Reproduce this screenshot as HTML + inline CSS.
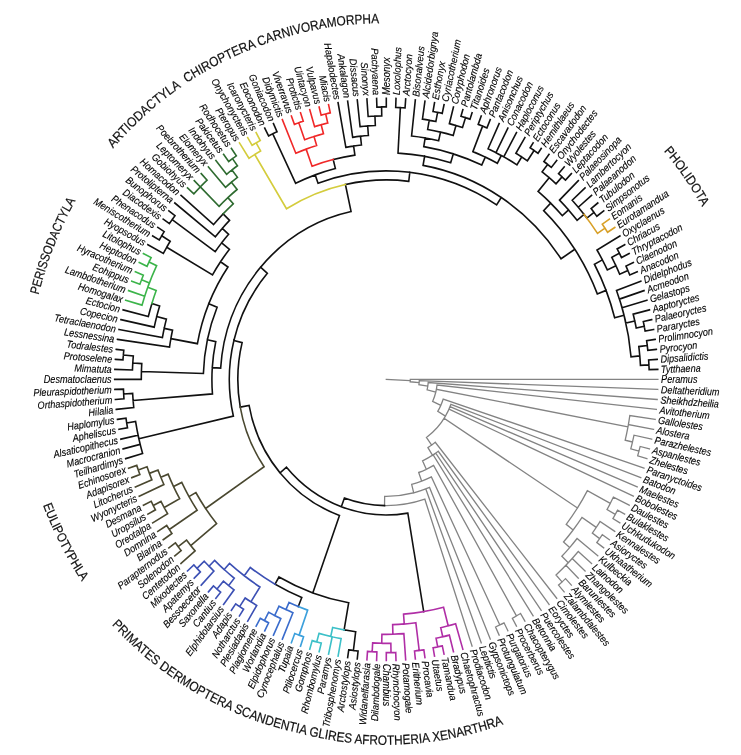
<!DOCTYPE html>
<html><head><meta charset="utf-8"><style>
html,body{margin:0;padding:0;background:#fff;}
svg{display:block;}
.lb text{font-family:"Liberation Sans",sans-serif;font-style:italic;font-size:10.0px;fill:#000;stroke:#000;stroke-width:0.12px;}
.tt text{font-family:"Liberation Sans",sans-serif;font-size:13px;fill:#111;stroke:#111;stroke-width:0.2px;}
</style></head><body>
<svg width="741" height="755" viewBox="0 0 741 755" style="will-change:transform">
<rect width="741" height="755" fill="#fff"/>
<g transform="translate(386.3,379.4) scale(1,1.035)">
<g fill="none" stroke-linecap="square" stroke-width="1.5"><path stroke="#838383" stroke-width="1.3" d="M0,0L23.97,1.15M23.97,1.15A24,24 0 0 0 24.00,0.00L271.60,0.00M23.97,1.15A24,24 0 0 1 23.89,2.30L32.85,3.17M32.85,3.17A33,33 0 0 0 32.98,1.18L271.43,9.69M32.85,3.17A33,33 0 0 1 32.60,5.15L41.49,6.55M41.49,6.55A42,42 0 0 0 41.89,3.00L270.91,19.38M41.49,6.55A42,42 0 0 1 40.78,10.06L49.52,12.22M49.52,12.22A51,51 0 0 0 50.71,5.45L270.04,29.03M49.52,12.22A51,51 0 0 0 50.11,9.50L241.69,45.84M241.69,45.84A246,246 0 0 0 243.50,35.01L268.84,38.65M241.69,45.84A246,246 0 0 0 242.09,43.68L267.28,48.22M241.69,45.84A246,246 0 0 1 238.89,58.71L246.18,60.50M246.18,60.50A253.5,253.5 0 0 0 247.71,53.89L265.39,57.73M246.18,60.50A253.5,253.5 0 0 1 244.47,67.07L252.66,69.32M252.66,69.32A262,262 0 0 0 253.86,64.79L263.16,67.17M252.66,69.32A262,262 0 0 1 251.39,73.81L260.60,76.52M49.52,12.22A51,51 0 0 1 46.33,21.31L54.51,25.07M54.51,25.07A60,60 0 0 0 56.93,18.95L257.70,85.77M54.51,25.07A60,60 0 0 1 51.44,30.89L59.15,35.53M59.15,35.53A69,69 0 0 0 64.65,24.11L254.48,94.91M59.15,35.53A69,69 0 0 0 63.75,26.41L250.93,103.94M59.15,35.53A69,69 0 0 0 62.76,28.66L247.06,112.83M59.15,35.53A69,69 0 0 1 57.86,37.60L191.18,124.23M191.18,124.23A228,228 0 0 0 201.08,107.48L224.01,119.73M224.01,119.73A254,254 0 0 0 227.13,113.69L242.87,121.57M224.01,119.73A254,254 0 0 1 220.72,125.69L228.98,130.39M228.98,130.39A263.5,263.5 0 0 0 231.27,126.28L238.38,130.16M228.98,130.39A263.5,263.5 0 0 1 226.61,134.46L233.58,138.59M191.18,124.23A228,228 0 0 1 179.90,140.07L186.84,145.48M186.84,145.48A236.8,236.8 0 0 0 195.71,133.31L209.93,142.99M209.93,142.99A254,254 0 0 0 213.68,137.32L228.48,146.84M209.93,142.99A254,254 0 0 1 206.02,148.56L213.32,153.83M213.32,153.83A263,263 0 0 0 216.03,149.99L223.10,154.90M213.32,153.83A263,263 0 0 1 210.54,157.61L217.43,162.76M186.84,145.48A236.8,236.8 0 0 1 177.22,157.06L183.36,162.50M183.36,162.50A245,245 0 0 0 190.77,153.73L211.48,170.42M183.36,162.50A245,245 0 0 1 175.54,170.91L181.99,177.18M181.99,177.18A254,254 0 0 0 191.96,166.33L205.26,177.86M181.99,177.18A254,254 0 0 0 185.90,173.08L198.78,185.07M181.99,177.18A254,254 0 0 1 179.61,179.61L192.05,192.05M181.99,177.18A254,254 0 0 1 169.73,188.96L175.75,195.66M175.75,195.66A263,263 0 0 0 179.21,192.49L185.07,198.78M175.75,195.66A263,263 0 0 1 172.23,198.76L177.86,205.26M59.15,35.53A69,69 0 0 1 40.13,56.13L45.36,63.45M45.36,63.45A78,78 0 0 0 48.94,60.73L170.42,211.48M45.36,63.45A78,78 0 0 1 41.64,65.96L46.28,73.31M46.28,73.31A86.7,86.7 0 0 0 51.96,69.41L162.76,217.43M46.28,73.31A86.7,86.7 0 0 0 49.45,71.22L154.90,223.10M46.28,73.31A86.7,86.7 0 0 0 46.87,72.94L146.84,228.48M46.28,73.31A86.7,86.7 0 0 1 36.27,78.75L40.00,86.83M40.00,86.83A95.6,95.6 0 0 0 47.31,83.07L130.14,228.54M130.14,228.54A263,263 0 0 0 134.20,226.18L138.59,233.58M130.14,228.54A263,263 0 0 1 126.04,230.83L130.16,238.38M40.00,86.83A95.6,95.6 0 0 1 32.39,89.95L35.41,98.32M35.41,98.32A104.5,104.5 0 0 0 45.10,94.27L113.51,237.25M113.51,237.25A263,263 0 0 0 117.72,235.18L121.57,242.87M113.51,237.25A263,263 0 0 1 109.25,239.23L112.83,247.06M35.41,98.32A104.5,104.5 0 0 1 25.35,101.38L27.41,109.62M27.41,109.62A113,113 0 0 0 43.24,104.40L103.94,250.93M27.41,109.62A113,113 0 0 0 39.49,105.88L94.91,254.48M27.41,109.62A113,113 0 0 1 -1.65,112.99L-1.78,121.99M-1.78,121.99A122,122 0 0 0 38.53,115.76L85.77,257.70"/><path stroke="#111" stroke-width="1.6" d="M-1.78,121.99A122,122 0 0 1 -41.88,114.59L-44.97,123.04M-44.97,123.04A131,131 0 0 0 21.53,129.22L37.39,224.41M-44.97,123.04A131,131 0 0 1 -99.79,84.87L-106.26,90.38M-106.26,90.38A139.5,139.5 0 0 0 -46.83,131.41L-73.51,206.29M-73.51,206.29A219,219 0 0 0 -37.60,215.75L-42.19,242.05M-42.19,242.05A245.7,245.7 0 0 0 -30.62,243.78L-32.90,261.94M-32.90,261.94A264,264 0 0 0 -28.22,262.49L-29.03,270.04M-32.90,261.94A264,264 0 0 1 -37.57,261.31L-38.65,268.84M-73.51,206.29A219,219 0 0 1 -107.31,190.91L-111.23,197.88M-111.23,197.88A227,227 0 0 0 -84.52,210.68L-88.02,219.40M-106.26,90.38A139.5,139.5 0 0 1 -137.22,25.13L-146.07,26.75M-146.07,26.75A148.5,148.5 0 0 1 -144.18,-35.56L-152.43,-37.60M-152.43,-37.60A157,157 0 0 0 -152.95,35.42L-247.45,57.31M-247.45,57.31A254,254 0 0 0 -243.71,71.56L-260.60,76.52M-247.45,57.31A254,254 0 0 0 -246.11,62.82L-263.16,67.17M-247.45,57.31A254,254 0 0 1 -248.20,53.99L-265.39,57.73M-247.45,57.31A254,254 0 0 1 -250.73,40.63L-259.61,42.07M-259.61,42.07A263,263 0 0 0 -258.82,46.70L-267.28,48.22M-259.61,42.07A263,263 0 0 1 -260.32,37.43L-268.84,38.65M-152.43,-37.60A157,157 0 0 1 -118.94,-102.48L-125.76,-108.36M-125.76,-108.36A166,166 0 0 0 -165.65,-10.85L-174.03,-11.40M-174.03,-11.40A174.4,174.4 0 0 0 -173.84,13.99L-253.18,20.38M-253.18,20.38A254,254 0 0 0 -252.54,27.15L-270.04,29.03M-253.18,20.38A254,254 0 0 1 -253.64,13.60L-262.62,14.08M-262.62,14.08A263,263 0 0 0 -262.33,18.76L-270.91,19.38M-262.62,14.08A263,263 0 0 1 -262.83,9.39L-271.43,9.69M-174.03,-11.40A174.4,174.4 0 0 1 -170.53,-36.54L-178.94,-38.34M-178.94,-38.34A183,183 0 0 0 -182.91,-5.72L-244.88,-7.65M-244.88,-7.65A245,245 0 0 0 -245.00,0.00L-271.60,0.00M-244.88,-7.65A245,245 0 0 1 -244.52,-15.30L-253.50,-15.86M-253.50,-15.86A254,254 0 0 0 -253.84,-9.07L-271.43,-9.69M-253.50,-15.86A254,254 0 0 1 -252.99,-22.64L-262.95,-23.53M-262.95,-23.53A264,264 0 0 0 -263.33,-18.83L-270.91,-19.38M-262.95,-23.53A264,264 0 0 1 -262.49,-28.22L-270.04,-29.03M-178.94,-38.34A183,183 0 0 1 -169.19,-69.74L-177.51,-73.17M-177.51,-73.17A192,192 0 0 0 -188.87,-34.51L-215.43,-39.36M-215.43,-39.36A219,219 0 0 0 -216.77,-31.17L-268.84,-38.65M-215.43,-39.36A219,219 0 0 1 -213.79,-47.51L-222.08,-49.35M-222.08,-49.35A227.5,227.5 0 0 0 -223.89,-40.39L-267.28,-48.22M-222.08,-49.35A227.5,227.5 0 0 1 -219.92,-58.23L-229.59,-60.79M-229.59,-60.79A237.5,237.5 0 0 0 -232.07,-50.48L-265.39,-57.73M-229.59,-60.79A237.5,237.5 0 0 1 -226.65,-70.97L-234.38,-73.39M-234.38,-73.39A245.6,245.6 0 0 0 -237.97,-60.74L-263.16,-67.17M-177.51,-73.17A192,192 0 0 1 -158.34,-108.60L-165.76,-113.69M-165.76,-113.69A201,201 0 0 0 -173.77,-101.02L-219.59,-127.65M-219.59,-127.65A254,254 0 0 0 -222.93,-121.73L-238.38,-130.16M-219.59,-127.65A254,254 0 0 1 -216.10,-133.49L-224.60,-138.74M-224.60,-138.74A264,264 0 0 0 -227.04,-134.71L-233.58,-138.59M-224.60,-138.74A264,264 0 0 1 -222.09,-142.73L-228.48,-146.84M-165.76,-113.69A201,201 0 0 1 -156.82,-125.73L-164.63,-131.98M-164.63,-131.98A211,211 0 0 0 -171.14,-123.41L-214.13,-154.41M-214.13,-154.41A264,264 0 0 0 -216.86,-150.57L-223.10,-154.90M-214.13,-154.41A264,264 0 0 1 -211.34,-158.21L-217.43,-162.76M-164.63,-131.98A211,211 0 0 1 -157.68,-140.21L-164.03,-145.86M-164.03,-145.86A219.5,219.5 0 0 0 -170.91,-137.73L-211.48,-170.42M-164.03,-145.86A219.5,219.5 0 0 1 -156.76,-153.64L-163.19,-159.94M-163.19,-159.94A228.5,228.5 0 0 0 -172.69,-149.64L-205.26,-177.86M-125.76,-108.36A166,166 0 0 1 -35.22,-162.22L-40.88,-188.31M-40.88,-188.31A192.7,192.7 0 0 1 22.47,-191.39L23.50,-200.13M23.50,-200.13A201.5,201.5 0 0 0 -68.25,-189.59L-71.13,-197.59M-71.13,-197.59A210,210 0 0 0 -90.63,-189.44L-113.51,-237.25M-113.51,-237.25A263,263 0 0 0 -117.72,-235.18L-121.57,-242.87M-113.51,-237.25A263,263 0 0 1 -109.25,-239.23L-112.83,-247.06M-71.13,-197.59A210,210 0 0 1 -50.91,-203.73L-53.09,-212.47M-53.09,-212.47A219,219 0 0 1 -31.41,-216.74L-32.67,-225.45M-32.67,-225.45A227.8,227.8 0 0 0 -40.45,-224.18L-48.22,-267.28M-32.67,-225.45A227.8,227.8 0 0 1 -24.86,-226.44L-25.78,-234.89M-25.78,-234.89A236.3,236.3 0 0 0 -33.63,-233.89L-38.65,-268.84M-25.78,-234.89A236.3,236.3 0 0 1 -17.91,-235.62L-18.61,-244.89M-18.61,-244.89A245.6,245.6 0 0 0 -26.25,-244.19L-29.03,-270.04M-18.61,-244.89A245.6,245.6 0 0 1 -10.96,-245.36L-11.36,-254.45M-11.36,-254.45A254.7,254.7 0 0 0 -18.17,-254.05L-19.38,-270.91M-11.36,-254.45A254.7,254.7 0 0 1 -4.55,-254.66L-4.70,-263.26M-4.70,-263.26A263.3,263.3 0 0 0 -9.40,-263.13L-9.69,-271.43M-4.70,-263.26A263.3,263.3 0 0 1 -0.00,-263.30L-0.00,-271.60M23.50,-200.13A201.5,201.5 0 0 1 110.31,-168.62L114.96,-175.74M114.96,-175.74A210,210 0 0 0 36.77,-206.76L38.34,-215.62M38.34,-215.62A219,219 0 0 0 11.72,-218.69L14.08,-262.62M14.08,-262.62A263,263 0 0 0 9.39,-262.83L9.69,-271.43M14.08,-262.62A263,263 0 0 1 18.76,-262.33L19.38,-270.91M38.34,-215.62A219,219 0 0 1 64.39,-209.32L67.04,-217.92M67.04,-217.92A228,228 0 0 0 37.47,-224.90L38.87,-233.28M38.87,-233.28A236.5,236.5 0 0 0 25.28,-235.14L29.03,-270.04M38.87,-233.28A236.5,236.5 0 0 1 52.33,-230.64L54.21,-238.93M54.21,-238.93A245,245 0 0 0 41.35,-241.49L42.87,-250.36M42.87,-250.36A254,254 0 0 0 36.15,-251.41L38.65,-268.84M42.87,-250.36A254,254 0 0 1 49.55,-249.12L51.31,-257.95M51.31,-257.95A263,263 0 0 0 46.70,-258.82L48.22,-267.28M51.31,-257.95A263,263 0 0 1 55.90,-256.99L57.73,-265.39M54.21,-238.93A245,245 0 0 1 66.92,-235.68L69.66,-245.30M69.66,-245.30A255,255 0 0 0 63.06,-247.08L67.17,-263.16M69.66,-245.30A255,255 0 0 1 76.20,-243.35L79.19,-252.89M79.19,-252.89A265,265 0 0 0 74.66,-254.27L76.52,-260.60M79.19,-252.89A265,265 0 0 1 83.69,-251.44L85.77,-257.70M67.04,-217.92A228,228 0 0 1 95.41,-207.08L98.97,-214.80M98.97,-214.80A236.5,236.5 0 0 0 86.59,-220.08L96.29,-244.74M96.29,-244.74A263,263 0 0 0 91.91,-246.42L94.91,-254.48M96.29,-244.74A263,263 0 0 1 100.65,-242.98L103.94,-250.93M98.97,-214.80A236.5,236.5 0 0 1 111.02,-208.82L115.01,-216.33M115.01,-216.33A245,245 0 0 0 101.78,-222.86L112.83,-247.06M115.01,-216.33A245,245 0 0 0 109.67,-219.09L121.57,-242.87M115.01,-216.33A245,245 0 0 1 117.42,-215.03L130.16,-238.38M115.01,-216.33A245,245 0 0 1 130.61,-207.28L135.41,-214.90M135.41,-214.90A254,254 0 0 0 129.61,-218.44L138.59,-233.58M135.41,-214.90A254,254 0 0 1 141.11,-211.19L147.78,-221.17M147.78,-221.17A266,266 0 0 0 143.81,-223.77L146.84,-228.48M147.78,-221.17A266,266 0 0 1 151.71,-218.50L154.90,-223.10M114.96,-175.74A210,210 0 0 1 174.71,-116.51L188.52,-125.72M188.52,-125.72A226.6,226.6 0 0 0 157.34,-163.06L164.36,-170.33M164.36,-170.33A236.7,236.7 0 0 0 151.79,-181.62L162.88,-194.90M162.88,-194.90A254,254 0 0 0 155.82,-200.59L161.34,-207.70M161.34,-207.70A263,263 0 0 0 157.61,-210.54L162.76,-217.43M161.34,-207.70A263,263 0 0 1 165.02,-204.78L170.42,-211.48M162.88,-194.90A254,254 0 0 1 169.73,-188.96L175.75,-195.66M175.75,-195.66A263,263 0 0 0 172.23,-198.76L177.86,-205.26M175.75,-195.66A263,263 0 0 1 179.21,-192.49L185.07,-198.78M164.36,-170.33A236.7,236.7 0 0 1 176.09,-158.17L182.27,-163.72M182.27,-163.72A245,245 0 0 0 173.24,-173.24L192.05,-192.05M182.27,-163.72A245,245 0 0 1 190.77,-153.73L197.77,-159.38M197.77,-159.38A254,254 0 0 0 185.90,-173.08L198.78,-185.07M197.77,-159.38A254,254 0 0 0 191.96,-166.33L205.26,-177.86M197.77,-159.38A254,254 0 0 1 200.59,-155.82L207.70,-161.34M207.70,-161.34A263,263 0 0 0 204.78,-165.02L211.48,-170.42M207.70,-161.34A263,263 0 0 1 210.54,-157.61L217.43,-162.76M188.52,-125.72A226.6,226.6 0 0 1 211.01,-82.59L219.77,-86.02M219.77,-86.02A236,236 0 0 0 208.13,-111.25L216.07,-115.49M216.07,-115.49A245,245 0 0 0 210.70,-125.02L233.58,-138.59M216.07,-115.49A245,245 0 0 1 221.01,-105.74L229.58,-109.84M229.58,-109.84A254.5,254.5 0 0 0 225.51,-117.96L233.04,-121.90M233.04,-121.90A263,263 0 0 0 230.83,-126.04L238.38,-130.16M233.04,-121.90A263,263 0 0 1 235.18,-117.72L242.87,-121.57M229.58,-109.84A254.5,254.5 0 0 1 233.35,-101.57L241.60,-105.17M241.60,-105.17A263.5,263.5 0 0 0 239.69,-109.46L247.06,-112.83M241.60,-105.17A263.5,263.5 0 0 1 243.44,-100.84L250.93,-103.94M219.77,-86.02A236,236 0 0 1 228.35,-59.59L237.74,-62.04M237.74,-62.04A245.7,245.7 0 0 0 230.21,-85.86L254.48,-94.91M237.74,-62.04A245.7,245.7 0 0 0 233.13,-77.59L257.70,-85.77M237.74,-62.04A245.7,245.7 0 0 0 235.75,-69.22L260.60,-76.52M237.74,-62.04A245.7,245.7 0 0 1 239.61,-54.37L248.48,-56.38M248.48,-56.38A254.8,254.8 0 0 0 246.89,-63.01L263.16,-67.17M248.48,-56.38A254.8,254.8 0 0 1 249.90,-49.71L257.95,-51.31M257.95,-51.31A263,263 0 0 0 256.99,-55.90L265.39,-57.73M257.95,-51.31A263,263 0 0 1 258.82,-46.70L267.28,-48.22M237.74,-62.04A245.7,245.7 0 0 1 244.72,-21.90L253.49,-22.68M253.49,-22.68A254.5,254.5 0 0 0 252.52,-31.72L260.95,-32.78M260.95,-32.78A263,263 0 0 0 260.32,-37.43L268.84,-38.65M260.95,-32.78A263,263 0 0 1 261.49,-28.11L270.04,-29.03M253.49,-22.68A254.5,254.5 0 0 1 254.14,-13.62L262.62,-14.08M262.62,-14.08A263,263 0 0 0 262.33,-18.76L270.91,-19.38M262.62,-14.08A263,263 0 0 1 262.83,-9.39L271.43,-9.69"/><path stroke="#b02ea6" stroke-width="1.6" d="M37.39,224.41A227.5,227.5 0 0 0 57.25,220.18L61.90,238.08M61.90,238.08A246,246 0 0 0 69.31,236.04L76.52,260.60M61.90,238.08A246,246 0 0 1 54.43,239.90L56.43,248.68M56.43,248.68A255,255 0 0 0 63.06,247.08L67.17,263.16M56.43,248.68A255,255 0 0 1 49.75,250.10L51.41,258.44M51.41,258.44A263.5,263.5 0 0 0 56.01,257.48L57.73,265.39M51.41,258.44A263.5,263.5 0 0 1 46.79,259.31L48.22,267.28M37.39,224.41A227.5,227.5 0 0 1 17.24,226.85L17.96,236.32M17.96,236.32A237,237 0 0 0 29.54,235.15L32.90,261.94M32.90,261.94A264,264 0 0 0 37.57,261.31L38.65,268.84M32.90,261.94A264,264 0 0 1 28.22,262.49L29.03,270.04M17.96,236.32A237,237 0 0 1 6.34,236.92L6.59,246.21M6.59,246.21A246.3,246.3 0 0 0 17.57,245.67L19.38,270.91M6.59,246.21A246.3,246.3 0 0 1 -4.40,246.26L-4.55,254.96M-4.55,254.96A255,255 0 0 0 4.55,254.96L4.71,263.96M4.71,263.96A264,264 0 0 0 9.42,263.83L9.69,271.43M4.71,263.96A264,264 0 0 1 0.00,264.00L0.00,271.60M-4.55,254.96A255,255 0 0 1 -13.65,254.63L-14.10,263.12M-14.10,263.12A263.5,263.5 0 0 0 -9.40,263.33L-9.69,271.43M-14.10,263.12A263.5,263.5 0 0 1 -18.80,262.83L-19.38,270.91"/><path stroke="#3cc0c8" stroke-width="1.6" d="M-42.19,242.05A245.7,245.7 0 0 1 -53.65,239.77L-55.58,248.36M-55.58,248.36A254.5,254.5 0 0 0 -45.19,250.46L-48.22,267.28M-55.58,248.36A254.5,254.5 0 0 0 -54.10,248.68L-57.73,265.39M-55.58,248.36A254.5,254.5 0 0 1 -67.33,245.43L-69.58,253.63M-69.58,253.63A263,263 0 0 0 -65.04,254.83L-67.17,263.16M-69.58,253.63A263,263 0 0 1 -74.10,252.35L-76.52,260.60"/><path stroke="#3ca0dc" stroke-width="1.6" d="M-88.02,219.40A236.4,236.4 0 0 0 -78.65,222.93L-87.16,247.08M-87.16,247.08A262,262 0 0 0 -82.74,248.59L-85.77,257.70M-87.16,247.08A262,262 0 0 1 -91.56,245.48L-94.91,254.48"/><path stroke="#3a6ccc" stroke-width="1.6" d="M-88.02,219.40A236.4,236.4 0 0 1 -97.24,215.47L-100.37,222.40M-100.37,222.40A244,244 0 0 0 -93.37,225.43L-103.94,250.93M-100.37,222.40A244,244 0 0 1 -107.27,219.16L-111.66,228.14M-111.66,228.14A254,254 0 0 0 -105.52,231.05L-112.83,247.06M-111.66,228.14A254,254 0 0 1 -117.73,225.07L-121.90,233.04M-121.90,233.04A263,263 0 0 0 -117.72,235.18L-121.57,242.87M-121.90,233.04A263,263 0 0 1 -126.04,230.83L-130.16,238.38"/><path stroke="#3c50b4" stroke-width="1.6" d="M-111.23,197.88A227,227 0 0 1 -136.04,181.72L-142.03,189.73M-142.03,189.73A237,237 0 0 0 -126.35,200.51L-135.41,214.90M-135.41,214.90A254,254 0 0 0 -129.61,218.44L-138.59,233.58M-135.41,214.90A254,254 0 0 1 -141.11,211.19L-146.67,219.51M-146.67,219.51A264,264 0 0 0 -142.73,222.09L-146.84,228.48M-146.67,219.51A264,264 0 0 1 -150.57,216.86L-154.90,223.10M-142.03,189.73A237,237 0 0 1 -156.79,177.72L-162.09,183.72M-162.09,183.72A245,245 0 0 0 -152.02,192.13L-157.61,199.19M-157.61,199.19A254,254 0 0 0 -152.22,203.34L-162.76,217.43M-157.61,199.19A254,254 0 0 1 -162.88,194.90L-169.29,202.57M-169.29,202.57A264,264 0 0 0 -165.65,205.56L-170.42,211.48M-169.29,202.57A264,264 0 0 1 -172.88,199.52L-177.86,205.26M-162.09,183.72A245,245 0 0 1 -171.69,174.78L-177.29,180.49M-177.29,180.49A253,253 0 0 0 -172.40,185.17L-185.07,198.78M-177.29,180.49A253,253 0 0 1 -182.06,175.68L-189.26,182.62M-189.26,182.62A263,263 0 0 0 -185.97,185.97L-192.05,192.05M-189.26,182.62A263,263 0 0 1 -192.49,179.21L-198.78,185.07"/><path stroke="#4a4830" stroke-width="1.6" d="M-146.07,26.75A148.5,148.5 0 0 0 -122.22,84.35L-180.73,124.74M-180.73,124.74A219.6,219.6 0 0 0 -169.75,139.31L-195.57,160.50M-195.57,160.50A253,253 0 0 0 -191.20,165.68L-205.26,177.86M-195.57,160.50A253,253 0 0 1 -199.80,155.21L-208.09,161.65M-208.09,161.65A263.5,263.5 0 0 0 -205.17,165.34L-211.48,170.42M-208.09,161.65A263.5,263.5 0 0 1 -210.94,157.91L-217.43,162.76M-180.73,124.74A219.6,219.6 0 0 1 -190.46,109.30L-197.32,113.24M-197.32,113.24A227.5,227.5 0 0 0 -189.16,126.39L-217.01,145.00M-217.01,145.00A261,261 0 0 0 -214.39,148.85L-223.10,154.90M-217.01,145.00A261,261 0 0 1 -219.57,141.11L-228.48,146.84M-197.32,113.24A227.5,227.5 0 0 1 -204.56,99.56L-212.74,103.54M-212.74,103.54A236.6,236.6 0 0 0 -206.64,115.24L-222.10,123.86M-222.10,123.86A254.3,254.3 0 0 0 -218.70,129.76L-233.58,138.59M-222.10,123.86A254.3,254.3 0 0 1 -225.33,117.87L-233.04,121.90M-233.04,121.90A263,263 0 0 0 -230.83,126.04L-238.38,130.16M-233.04,121.90A263,263 0 0 1 -235.18,117.72L-242.87,121.57M-212.74,103.54A236.6,236.6 0 0 1 -218.18,91.52L-225.47,94.57M-225.47,94.57A244.5,244.5 0 0 0 -222.41,101.57L-247.06,112.83M-225.47,94.57A244.5,244.5 0 0 1 -228.31,87.49L-236.90,90.78M-236.90,90.78A253.7,253.7 0 0 0 -234.39,97.09L-250.93,103.94M-236.90,90.78A253.7,253.7 0 0 1 -239.25,84.40L-248.02,87.50M-248.02,87.50A263,263 0 0 0 -246.42,91.91L-254.48,94.91M-248.02,87.50A263,263 0 0 1 -249.54,83.06L-257.70,85.77"/><path stroke="#3cb44a" stroke-width="1.6" d="M-234.38,-73.39A245.6,245.6 0 0 1 -230.11,-85.83L-238.55,-88.97M-238.55,-88.97A254.6,254.6 0 0 0 -244.29,-71.73L-260.60,-76.52M-238.55,-88.97A254.6,254.6 0 0 0 -241.57,-80.40L-257.70,-85.77M-238.55,-88.97A254.6,254.6 0 0 1 -236.92,-93.22L-244.74,-96.29M-244.74,-96.29A263,263 0 0 0 -246.42,-91.91L-254.48,-94.91M-244.74,-96.29A263,263 0 0 1 -242.98,-100.65L-250.93,-103.94M-238.55,-88.97A254.6,254.6 0 0 1 -229.67,-109.88L-237.25,-113.51M-237.25,-113.51A263,263 0 0 0 -239.23,-109.25L-247.06,-112.83M-237.25,-113.51A263,263 0 0 1 -235.18,-117.72L-242.87,-121.57"/><path stroke="#2e6b30" stroke-width="1.6" d="M-163.19,-159.94A228.5,228.5 0 0 1 -153.07,-169.65L-158.43,-175.59M-158.43,-175.59A236.5,236.5 0 0 0 -167.23,-167.23L-185.97,-185.97M-185.97,-185.97A263,263 0 0 0 -192.49,-179.21L-198.78,-185.07M-185.97,-185.97L-192.05,-192.05M-185.97,-185.97A263,263 0 0 1 -179.21,-192.49L-185.07,-198.78M-158.43,-175.59A236.5,236.5 0 0 1 -149.22,-183.48L-154.90,-190.47M-154.90,-190.47A245.5,245.5 0 0 0 -160.77,-185.54L-177.86,-205.26M-154.90,-190.47A245.5,245.5 0 0 1 -148.87,-195.21L-154.33,-202.37M-154.33,-202.37A254.5,254.5 0 0 0 -159.69,-198.16L-170.42,-211.48M-154.33,-202.37A254.5,254.5 0 0 1 -148.86,-206.43L-153.83,-213.32M-153.83,-213.32A263,263 0 0 0 -157.61,-210.54L-162.76,-217.43M-153.83,-213.32A263,263 0 0 1 -149.99,-216.03L-154.90,-223.10"/><path stroke="#d4cc3c" stroke-width="1.6" d="M-40.88,-188.31A192.7,192.7 0 0 0 -99.80,-164.84L-131.55,-217.28M-131.55,-217.28A254,254 0 0 0 -137.32,-213.68L-146.84,-228.48M-131.55,-217.28A254,254 0 0 1 -125.69,-220.72L-130.14,-228.54M-130.14,-228.54A263,263 0 0 0 -134.20,-226.18L-138.59,-233.58M-130.14,-228.54A263,263 0 0 1 -126.04,-230.83L-130.16,-238.38"/><path stroke="#f02828" stroke-width="1.6" d="M-53.09,-212.47A219,219 0 0 0 -74.24,-206.03L-80.17,-222.50M-80.17,-222.50A236.5,236.5 0 0 0 -90.50,-218.50L-103.94,-250.93M-80.17,-222.50A236.5,236.5 0 0 1 -69.66,-226.01L-72.31,-234.61M-72.31,-234.61A245.5,245.5 0 0 0 -81.67,-231.52L-87.50,-248.02M-87.50,-248.02A263,263 0 0 0 -91.91,-246.42L-94.91,-254.48M-87.50,-248.02A263,263 0 0 1 -83.06,-249.54L-85.77,-257.70M-72.31,-234.61A245.5,245.5 0 0 1 -62.83,-237.32L-65.14,-246.02M-65.14,-246.02A254.5,254.5 0 0 0 -71.70,-244.19L-76.52,-260.60M-65.14,-246.02A254.5,254.5 0 0 1 -58.53,-247.68L-60.60,-256.44M-60.60,-256.44A263.5,263.5 0 0 0 -65.17,-255.31L-67.17,-263.16M-60.60,-256.44A263.5,263.5 0 0 1 -56.01,-257.48L-57.73,-265.39"/><path stroke="#d8a028" stroke-width="1.6" d="M197.77,-159.38A254,254 0 0 1 211.19,-141.11L218.68,-146.11M218.68,-146.11A263,263 0 0 0 216.03,-149.99L223.10,-154.90M218.68,-146.11A263,263 0 0 1 221.25,-142.19L228.48,-146.84"/></g>
<g class="lb"><text transform="rotate(0.000) translate(274.8,0) scale(0.91,1)" y="3.6">Peramus</text><text transform="rotate(2.045) translate(274.8,0) scale(0.91,1)" y="3.6">Deltatheridium</text><text transform="rotate(4.091) translate(274.8,0) scale(0.91,1)" y="3.6">Sheikhdzheilia</text><text transform="rotate(6.136) translate(274.8,0) scale(0.91,1)" y="3.6">Avitotherium</text><text transform="rotate(8.182) translate(274.8,0) scale(0.91,1)" y="3.6">Gallolestes</text><text transform="rotate(10.227) translate(274.8,0) scale(0.91,1)" y="3.6">Alostera</text><text transform="rotate(12.273) translate(274.8,0) scale(0.91,1)" y="3.6">Parazhelestes</text><text transform="rotate(14.318) translate(274.8,0) scale(0.91,1)" y="3.6">Aspanlestes</text><text transform="rotate(16.364) translate(274.8,0) scale(0.91,1)" y="3.6">Zhelestes</text><text transform="rotate(18.409) translate(274.8,0) scale(0.91,1)" y="3.6">Paranyctoides</text><text transform="rotate(20.455) translate(274.8,0) scale(0.91,1)" y="3.6">Batodon</text><text transform="rotate(22.500) translate(274.8,0) scale(0.91,1)" y="3.6">Maelestes</text><text transform="rotate(24.545) translate(274.8,0) scale(0.91,1)" y="3.6">Bobolestes</text><text transform="rotate(26.591) translate(274.8,0) scale(0.91,1)" y="3.6">Daulestes</text><text transform="rotate(28.636) translate(274.8,0) scale(0.91,1)" y="3.6">Bulaklestes</text><text transform="rotate(30.682) translate(274.8,0) scale(0.91,1)" y="3.6">Uchkudukodon</text><text transform="rotate(32.727) translate(274.8,0) scale(0.91,1)" y="3.6">Kennalestes</text><text transform="rotate(34.773) translate(274.8,0) scale(0.91,1)" y="3.6">Asioryctes</text><text transform="rotate(36.818) translate(274.8,0) scale(0.91,1)" y="3.6">Ukhaatherium</text><text transform="rotate(38.864) translate(274.8,0) scale(0.91,1)" y="3.6">Kulbeckia</text><text transform="rotate(40.909) translate(274.8,0) scale(0.91,1)" y="3.6">Lainodon</text><text transform="rotate(42.955) translate(274.8,0) scale(0.91,1)" y="3.6">Zhangolestes</text><text transform="rotate(45.000) translate(274.8,0) scale(0.91,1)" y="3.6">Barunlestes</text><text transform="rotate(47.045) translate(274.8,0) scale(0.91,1)" y="3.6">Alymlestes</text><text transform="rotate(49.091) translate(274.8,0) scale(0.91,1)" y="3.6">Zalambdalestes</text><text transform="rotate(51.136) translate(274.8,0) scale(0.91,1)" y="3.6">Cimolestes</text><text transform="rotate(53.182) translate(274.8,0) scale(0.91,1)" y="3.6">Eoryctes</text><text transform="rotate(55.227) translate(274.8,0) scale(0.91,1)" y="3.6">Puercolestes</text><text transform="rotate(57.273) translate(274.8,0) scale(0.91,1)" y="3.6">Betonnia</text><text transform="rotate(59.318) translate(274.8,0) scale(0.91,1)" y="3.6">Chacopterygus</text><text transform="rotate(61.364) translate(274.8,0) scale(0.91,1)" y="3.6">Procerberus</text><text transform="rotate(63.409) translate(274.8,0) scale(0.91,1)" y="3.6">Purgatorius</text><text transform="rotate(65.455) translate(274.8,0) scale(0.91,1)" y="3.6">Protungulatum</text><text transform="rotate(67.500) translate(274.8,0) scale(0.91,1)" y="3.6">Gypsonictops</text><text transform="rotate(69.545) translate(274.8,0) scale(0.91,1)" y="3.6">Leptictis</text><text transform="rotate(71.591) translate(274.8,0) scale(0.91,1)" y="3.6">Prodiacodon</text><text transform="rotate(73.636) translate(274.8,0) scale(0.91,1)" y="3.6">Chaetophractus</text><text transform="rotate(75.682) translate(274.8,0) scale(0.91,1)" y="3.6">Bradypus</text><text transform="rotate(77.727) translate(274.8,0) scale(0.91,1)" y="3.6">Tamandua</text><text transform="rotate(79.773) translate(274.8,0) scale(0.91,1)" y="3.6">Utaetus</text><text transform="rotate(81.818) translate(274.8,0) scale(0.91,1)" y="3.6">Procavia</text><text transform="rotate(83.864) translate(274.8,0) scale(0.91,1)" y="3.6">Eritherium</text><text transform="rotate(85.909) translate(274.8,0) scale(0.91,1)" y="3.6">Potamogale</text><text transform="rotate(87.955) translate(274.8,0) scale(0.91,1)" y="3.6">Rhynchocyon</text><text transform="rotate(90.000) translate(274.8,0) scale(0.91,1)" y="3.6">Chambius</text><text transform="rotate(-87.955) translate(-274.8,0) scale(0.91,1)" y="3.6" text-anchor="end">Dilambdogale</text><text transform="rotate(-85.909) translate(-274.8,0) scale(0.91,1)" y="3.6" text-anchor="end">Widanelfarasia</text><text transform="rotate(-83.864) translate(-274.8,0) scale(0.91,1)" y="3.6" text-anchor="end">Asiostylops</text><text transform="rotate(-81.818) translate(-274.8,0) scale(0.91,1)" y="3.6" text-anchor="end">Arctostylops</text><text transform="rotate(-79.773) translate(-274.8,0) scale(0.91,1)" y="3.6" text-anchor="end">Tribosphenomys</text><text transform="rotate(-77.727) translate(-274.8,0) scale(0.91,1)" y="3.6" text-anchor="end">Paramys</text><text transform="rotate(-75.682) translate(-274.8,0) scale(0.91,1)" y="3.6" text-anchor="end">Rhombomylus</text><text transform="rotate(-73.636) translate(-274.8,0) scale(0.91,1)" y="3.6" text-anchor="end">Gomphos</text><text transform="rotate(-71.591) translate(-274.8,0) scale(0.91,1)" y="3.6" text-anchor="end">Ptilocercus</text><text transform="rotate(-69.545) translate(-274.8,0) scale(0.91,1)" y="3.6" text-anchor="end">Tupaia</text><text transform="rotate(-67.500) translate(-274.8,0) scale(0.91,1)" y="3.6" text-anchor="end">Cynocephalus</text><text transform="rotate(-65.455) translate(-274.8,0) scale(0.91,1)" y="3.6" text-anchor="end">Elpidophorus</text><text transform="rotate(-63.409) translate(-274.8,0) scale(0.91,1)" y="3.6" text-anchor="end">Worlandia</text><text transform="rotate(-61.364) translate(-274.8,0) scale(0.91,1)" y="3.6" text-anchor="end">Plagiomene</text><text transform="rotate(-59.318) translate(-274.8,0) scale(0.91,1)" y="3.6" text-anchor="end">Plesiadapis</text><text transform="rotate(-57.273) translate(-274.8,0) scale(0.91,1)" y="3.6" text-anchor="end">Notharctus</text><text transform="rotate(-55.227) translate(-274.8,0) scale(0.91,1)" y="3.6" text-anchor="end">Adapis</text><text transform="rotate(-53.182) translate(-274.8,0) scale(0.91,1)" y="3.6" text-anchor="end">Elphidotarsius</text><text transform="rotate(-51.136) translate(-274.8,0) scale(0.91,1)" y="3.6" text-anchor="end">Cantius</text><text transform="rotate(-49.091) translate(-274.8,0) scale(0.91,1)" y="3.6" text-anchor="end">Saxonella</text><text transform="rotate(-47.045) translate(-274.8,0) scale(0.91,1)" y="3.6" text-anchor="end">Bessoecetor</text><text transform="rotate(-45.000) translate(-274.8,0) scale(0.91,1)" y="3.6" text-anchor="end">Apatemys</text><text transform="rotate(-42.955) translate(-274.8,0) scale(0.91,1)" y="3.6" text-anchor="end">Mixodectes</text><text transform="rotate(-40.909) translate(-274.8,0) scale(0.91,1)" y="3.6" text-anchor="end">Centetodon</text><text transform="rotate(-38.864) translate(-274.8,0) scale(0.91,1)" y="3.6" text-anchor="end">Solenodon</text><text transform="rotate(-36.818) translate(-274.8,0) scale(0.91,1)" y="3.6" text-anchor="end">Parapternodus</text><text transform="rotate(-34.773) translate(-274.8,0) scale(0.91,1)" y="3.6" text-anchor="end">Blarina</text><text transform="rotate(-32.727) translate(-274.8,0) scale(0.91,1)" y="3.6" text-anchor="end">Domnina</text><text transform="rotate(-30.682) translate(-274.8,0) scale(0.91,1)" y="3.6" text-anchor="end">Oreotalpa</text><text transform="rotate(-28.636) translate(-274.8,0) scale(0.91,1)" y="3.6" text-anchor="end">Uropsilus</text><text transform="rotate(-26.591) translate(-274.8,0) scale(0.91,1)" y="3.6" text-anchor="end">Desmana</text><text transform="rotate(-24.545) translate(-274.8,0) scale(0.91,1)" y="3.6" text-anchor="end">Wyonycteris</text><text transform="rotate(-22.500) translate(-274.8,0) scale(0.91,1)" y="3.6" text-anchor="end">Litocherus</text><text transform="rotate(-20.455) translate(-274.8,0) scale(0.91,1)" y="3.6" text-anchor="end">Adapisorex</text><text transform="rotate(-18.409) translate(-274.8,0) scale(0.91,1)" y="3.6" text-anchor="end">Echinosorex</text><text transform="rotate(-16.364) translate(-274.8,0) scale(0.91,1)" y="3.6" text-anchor="end">Teilhardimys</text><text transform="rotate(-14.318) translate(-274.8,0) scale(0.91,1)" y="3.6" text-anchor="end">Macrocranion</text><text transform="rotate(-12.273) translate(-274.8,0) scale(0.91,1)" y="3.6" text-anchor="end">Alsaticopithecus</text><text transform="rotate(-10.227) translate(-274.8,0) scale(0.91,1)" y="3.6" text-anchor="end">Apheliscus</text><text transform="rotate(-8.182) translate(-274.8,0) scale(0.91,1)" y="3.6" text-anchor="end">Haplomylus</text><text transform="rotate(-6.136) translate(-274.8,0) scale(0.91,1)" y="3.6" text-anchor="end">Hilalia</text><text transform="rotate(-4.091) translate(-274.8,0) scale(0.91,1)" y="3.6" text-anchor="end">Orthaspidotherium</text><text transform="rotate(-2.045) translate(-274.8,0) scale(0.91,1)" y="3.6" text-anchor="end">Pleuraspidotherium</text><text transform="rotate(0.000) translate(-274.8,0) scale(0.91,1)" y="3.6" text-anchor="end">Desmatoclaenus</text><text transform="rotate(2.045) translate(-274.8,0) scale(0.91,1)" y="3.6" text-anchor="end">Mimatuta</text><text transform="rotate(4.091) translate(-274.8,0) scale(0.91,1)" y="3.6" text-anchor="end">Protoselene</text><text transform="rotate(6.136) translate(-274.8,0) scale(0.91,1)" y="3.6" text-anchor="end">Todralestes</text><text transform="rotate(8.182) translate(-274.8,0) scale(0.91,1)" y="3.6" text-anchor="end">Lessnessina</text><text transform="rotate(10.227) translate(-274.8,0) scale(0.91,1)" y="3.6" text-anchor="end">Tetraclaenodon</text><text transform="rotate(12.273) translate(-274.8,0) scale(0.91,1)" y="3.6" text-anchor="end">Copecion</text><text transform="rotate(14.318) translate(-274.8,0) scale(0.91,1)" y="3.6" text-anchor="end">Ectocion</text><text transform="rotate(16.364) translate(-274.8,0) scale(0.91,1)" y="3.6" text-anchor="end">Homogalax</text><text transform="rotate(18.409) translate(-274.8,0) scale(0.91,1)" y="3.6" text-anchor="end">Lambdotherium</text><text transform="rotate(20.455) translate(-274.8,0) scale(0.91,1)" y="3.6" text-anchor="end">Eohippus</text><text transform="rotate(22.500) translate(-274.8,0) scale(0.91,1)" y="3.6" text-anchor="end">Hyracotherium</text><text transform="rotate(24.545) translate(-274.8,0) scale(0.91,1)" y="3.6" text-anchor="end">Heptodon</text><text transform="rotate(26.591) translate(-274.8,0) scale(0.91,1)" y="3.6" text-anchor="end">Litolophus</text><text transform="rotate(28.636) translate(-274.8,0) scale(0.91,1)" y="3.6" text-anchor="end">Hyopsodus</text><text transform="rotate(30.682) translate(-274.8,0) scale(0.91,1)" y="3.6" text-anchor="end">Meniscotherium</text><text transform="rotate(32.727) translate(-274.8,0) scale(0.91,1)" y="3.6" text-anchor="end">Phenacodus</text><text transform="rotate(34.773) translate(-274.8,0) scale(0.91,1)" y="3.6" text-anchor="end">Diacodexis</text><text transform="rotate(36.818) translate(-274.8,0) scale(0.91,1)" y="3.6" text-anchor="end">Bunophorus</text><text transform="rotate(38.864) translate(-274.8,0) scale(0.91,1)" y="3.6" text-anchor="end">Protolipterna</text><text transform="rotate(40.909) translate(-274.8,0) scale(0.91,1)" y="3.6" text-anchor="end">Homacodon</text><text transform="rotate(42.955) translate(-274.8,0) scale(0.91,1)" y="3.6" text-anchor="end">Gobiohyus</text><text transform="rotate(45.000) translate(-274.8,0) scale(0.91,1)" y="3.6" text-anchor="end">Leptomeryx</text><text transform="rotate(47.045) translate(-274.8,0) scale(0.91,1)" y="3.6" text-anchor="end">Poebrotherium</text><text transform="rotate(49.091) translate(-274.8,0) scale(0.91,1)" y="3.6" text-anchor="end">Elomeryx</text><text transform="rotate(51.136) translate(-274.8,0) scale(0.91,1)" y="3.6" text-anchor="end">Indohyus</text><text transform="rotate(53.182) translate(-274.8,0) scale(0.91,1)" y="3.6" text-anchor="end">Pakicetus</text><text transform="rotate(55.227) translate(-274.8,0) scale(0.91,1)" y="3.6" text-anchor="end">Rodhocetus</text><text transform="rotate(57.273) translate(-274.8,0) scale(0.91,1)" y="3.6" text-anchor="end">Pteropus</text><text transform="rotate(59.318) translate(-274.8,0) scale(0.91,1)" y="3.6" text-anchor="end">Onychonycteris</text><text transform="rotate(61.364) translate(-274.8,0) scale(0.91,1)" y="3.6" text-anchor="end">Icaronycteris</text><text transform="rotate(63.409) translate(-274.8,0) scale(0.91,1)" y="3.6" text-anchor="end">Eoconodon</text><text transform="rotate(65.455) translate(-274.8,0) scale(0.91,1)" y="3.6" text-anchor="end">Goniacodon</text><text transform="rotate(67.500) translate(-274.8,0) scale(0.91,1)" y="3.6" text-anchor="end">Didymictis</text><text transform="rotate(69.545) translate(-274.8,0) scale(0.91,1)" y="3.6" text-anchor="end">Viverravus</text><text transform="rotate(71.591) translate(-274.8,0) scale(0.91,1)" y="3.6" text-anchor="end">Protictis</text><text transform="rotate(73.636) translate(-274.8,0) scale(0.91,1)" y="3.6" text-anchor="end">Uintacyon</text><text transform="rotate(75.682) translate(-274.8,0) scale(0.91,1)" y="3.6" text-anchor="end">Vulpavus</text><text transform="rotate(77.727) translate(-274.8,0) scale(0.91,1)" y="3.6" text-anchor="end">Miacis</text><text transform="rotate(79.773) translate(-274.8,0) scale(0.91,1)" y="3.6" text-anchor="end">Hapalodectes</text><text transform="rotate(81.818) translate(-274.8,0) scale(0.91,1)" y="3.6" text-anchor="end">Ankalagon</text><text transform="rotate(83.864) translate(-274.8,0) scale(0.91,1)" y="3.6" text-anchor="end">Dissacus</text><text transform="rotate(85.909) translate(-274.8,0) scale(0.91,1)" y="3.6" text-anchor="end">Sinonyx</text><text transform="rotate(87.955) translate(-274.8,0) scale(0.91,1)" y="3.6" text-anchor="end">Pachyaena</text><text transform="rotate(270.000) translate(274.8,0) scale(0.91,1)" y="3.6">Mesonyx</text><text transform="rotate(272.045) translate(274.8,0) scale(0.91,1)" y="3.6">Loxolophus</text><text transform="rotate(274.091) translate(274.8,0) scale(0.91,1)" y="3.6">Arctocyon</text><text transform="rotate(276.136) translate(274.8,0) scale(0.91,1)" y="3.6">Bisonalveus</text><text transform="rotate(278.182) translate(274.8,0) scale(0.91,1)" y="3.6">Alcidedorbignya</text><text transform="rotate(280.227) translate(274.8,0) scale(0.91,1)" y="3.6">Esthonyx</text><text transform="rotate(282.273) translate(274.8,0) scale(0.91,1)" y="3.6">Cyriacotherium</text><text transform="rotate(284.318) translate(274.8,0) scale(0.91,1)" y="3.6">Coryphodon</text><text transform="rotate(286.364) translate(274.8,0) scale(0.91,1)" y="3.6">Pantolambda</text><text transform="rotate(288.409) translate(274.8,0) scale(0.91,1)" y="3.6">Titanoides</text><text transform="rotate(290.455) translate(274.8,0) scale(0.91,1)" y="3.6">Aphronorus</text><text transform="rotate(292.500) translate(274.8,0) scale(0.91,1)" y="3.6">Pantacodon</text><text transform="rotate(294.545) translate(274.8,0) scale(0.91,1)" y="3.6">Anisonchus</text><text transform="rotate(296.591) translate(274.8,0) scale(0.91,1)" y="3.6">Conacodon</text><text transform="rotate(298.636) translate(274.8,0) scale(0.91,1)" y="3.6">Haploconus</text><text transform="rotate(300.682) translate(274.8,0) scale(0.91,1)" y="3.6">Periptychus</text><text transform="rotate(302.727) translate(274.8,0) scale(0.91,1)" y="3.6">Ectoconus</text><text transform="rotate(304.773) translate(274.8,0) scale(0.91,1)" y="3.6">Hemithlaeus</text><text transform="rotate(306.818) translate(274.8,0) scale(0.91,1)" y="3.6">Escavadodon</text><text transform="rotate(308.864) translate(274.8,0) scale(0.91,1)" y="3.6">Onychodectes</text><text transform="rotate(310.909) translate(274.8,0) scale(0.91,1)" y="3.6">Wyolestes</text><text transform="rotate(312.955) translate(274.8,0) scale(0.91,1)" y="3.6">Leptacodon</text><text transform="rotate(315.000) translate(274.8,0) scale(0.91,1)" y="3.6">Palaeosinopa</text><text transform="rotate(317.045) translate(274.8,0) scale(0.91,1)" y="3.6">Lambertocyon</text><text transform="rotate(319.091) translate(274.8,0) scale(0.91,1)" y="3.6">Palaeanodon</text><text transform="rotate(321.136) translate(274.8,0) scale(0.91,1)" y="3.6">Tubulodon</text><text transform="rotate(323.182) translate(274.8,0) scale(0.91,1)" y="3.6">Simpsonotus</text><text transform="rotate(325.227) translate(274.8,0) scale(0.91,1)" y="3.6">Eomanis</text><text transform="rotate(327.273) translate(274.8,0) scale(0.91,1)" y="3.6">Eurotamandua</text><text transform="rotate(329.318) translate(274.8,0) scale(0.91,1)" y="3.6">Oxyclaenus</text><text transform="rotate(331.364) translate(274.8,0) scale(0.91,1)" y="3.6">Chriacus</text><text transform="rotate(333.409) translate(274.8,0) scale(0.91,1)" y="3.6">Thryptacodon</text><text transform="rotate(335.455) translate(274.8,0) scale(0.91,1)" y="3.6">Claenodon</text><text transform="rotate(337.500) translate(274.8,0) scale(0.91,1)" y="3.6">Anacodon</text><text transform="rotate(339.545) translate(274.8,0) scale(0.91,1)" y="3.6">Didelphodus</text><text transform="rotate(341.591) translate(274.8,0) scale(0.91,1)" y="3.6">Acmeodon</text><text transform="rotate(343.636) translate(274.8,0) scale(0.91,1)" y="3.6">Gelastops</text><text transform="rotate(345.682) translate(274.8,0) scale(0.91,1)" y="3.6">Aaptoryctes</text><text transform="rotate(347.727) translate(274.8,0) scale(0.91,1)" y="3.6">Palaeoryctes</text><text transform="rotate(349.773) translate(274.8,0) scale(0.91,1)" y="3.6">Pararyctes</text><text transform="rotate(351.818) translate(274.8,0) scale(0.91,1)" y="3.6">Prolimnocyon</text><text transform="rotate(353.864) translate(274.8,0) scale(0.91,1)" y="3.6">Pyrocyon</text><text transform="rotate(355.909) translate(274.8,0) scale(0.91,1)" y="3.6">Dipsalidictis</text><text transform="rotate(357.955) translate(274.8,0) scale(0.91,1)" y="3.6">Tytthaena</text></g>
<g class="tt"><defs><path id="t1" d="M-273.40,-222.98 L-272.34,-224.18 L-271.27,-225.37 L-270.19,-226.56 L-269.11,-227.74 L-268.03,-228.92 L-266.94,-230.09 L-265.85,-231.26 L-264.75,-232.42 L-263.64,-233.58 L-262.53,-234.73 L-261.42,-235.88 L-260.30,-237.02 L-259.17,-238.15 L-258.04,-239.28 L-256.91,-240.41 L-255.77,-241.53 L-254.62,-242.64 L-253.47,-243.75 L-252.32,-244.86 L-251.16,-245.95 L-250.00,-247.05 L-248.83,-248.13 L-247.66,-249.22 L-246.48,-250.29 L-245.30,-251.36 L-244.11,-252.43 L-242.92,-253.49 L-241.72,-254.54 L-240.52,-255.59 L-239.31,-256.63 L-238.10,-257.67 L-236.89,-258.70 L-235.67,-259.73 L-234.45,-260.74 L-233.22,-261.76 L-231.99,-262.77 L-230.75,-263.77 L-229.51,-264.77 L-228.26,-265.76 L-227.01,-266.74 L-225.76,-267.72 L-224.50,-268.69 L-223.24,-269.66 L-221.98,-270.62 L-220.70,-271.58 L-219.43,-272.53 L-218.15,-273.47 L-216.87,-274.41 L-215.58,-275.34 L-214.29,-276.26 L-213.00,-277.18 L-211.70,-278.10 L-210.40,-279.00 L-209.09,-279.91 L-207.78,-280.80 L-206.47,-281.69 L-205.15,-282.57 L-203.83,-283.45 L-202.50,-284.32 L-201.17,-285.18 L-200.08,-285.89 L-198.99,-286.60 L-197.90,-287.30 L-196.80,-287.99 L-195.70,-288.69 L-194.60,-289.37 L-193.49,-290.06 L-192.39,-290.74 L-191.28,-291.41 L-190.16,-292.08 L-189.05,-292.75 L-187.93,-293.41 L-186.82,-294.07 L-185.69,-294.73 L-184.57,-295.38 L-183.45,-296.02 L-182.32,-296.66 L-181.19,-297.30 L-180.05,-297.93 L-178.92,-298.56 L-177.78,-299.18 L-176.64,-299.80 L-175.50,-300.42 L-174.36,-301.03 L-173.22,-301.64 L-172.07,-302.24 L-170.92,-302.84 L-169.77,-303.43 L-168.61,-304.02 L-167.46,-304.60 L-166.30,-305.18 L-165.14,-305.76 L-163.98,-306.33 L-162.82,-306.90 L-161.65,-307.46 L-160.48,-308.02 L-159.31,-308.57 L-158.14,-309.12 L-156.97,-309.67 L-155.79,-310.21 L-154.62,-310.75 L-153.44,-311.28 L-152.26,-311.80 L-151.07,-312.33 L-149.89,-312.85 L-148.70,-313.36 L-147.52,-313.87 L-146.33,-314.37 L-145.14,-314.87 L-143.94,-315.37 L-142.75,-315.86 L-141.55,-316.35 L-140.36,-316.83 L-139.16,-317.31 L-137.96,-317.78 L-136.75,-318.25 L-135.55,-318.71 L-134.34,-319.17 L-133.14,-319.63 L-131.93,-320.08 L-129.94,-320.85 L-127.94,-321.62 L-125.95,-322.37 L-123.94,-323.11 L-121.94,-323.84 L-119.93,-324.55 L-117.91,-325.25 L-115.89,-325.94 L-113.87,-326.62 L-111.84,-327.28 L-109.81,-327.94 L-107.78,-328.58 L-105.74,-329.20 L-103.70,-329.82 L-101.65,-330.42 L-99.60,-331.01 L-97.55,-331.58 L-95.49,-332.15 L-93.43,-332.70 L-91.37,-333.23 L-89.31,-333.76 L-87.24,-334.27 L-85.17,-334.77 L-83.09,-335.26 L-81.01,-335.73 L-78.94,-336.19 L-76.85,-336.64 L-74.77,-337.07 L-72.68,-337.50 L-70.59,-337.91 L-68.50,-338.30 L-66.41,-338.68 L-64.31,-339.05 L-62.21,-339.41 L-60.11,-339.76 L-58.01,-340.09 L-55.91,-340.41 L-53.80,-340.71 L-51.69,-341.00 L-49.59,-341.28 L-47.47,-341.55 L-45.36,-341.80 L-43.25,-342.04 L-41.14,-342.27 L-39.02,-342.48 L-36.90,-342.69 L-34.79,-342.87 L-32.67,-343.05 L-30.55,-343.21 L-28.43,-343.36 L-26.31,-343.49 L-24.19,-343.62 L-22.07,-343.73 L-19.95,-343.82 L-17.82,-343.91 L-15.70,-343.98 L-13.58,-344.03 L-11.45,-344.08 L-9.33,-344.11 L-7.21,-344.12"/><path id="t2" d="M277.51,-220.74 L278.23,-219.90 L278.94,-219.06 L279.66,-218.22 L280.37,-217.37 L281.07,-216.52 L281.78,-215.67 L282.48,-214.81 L283.18,-213.96 L283.87,-213.10 L284.57,-212.24 L285.26,-211.38 L285.95,-210.51 L286.63,-209.64 L287.32,-208.77 L288.00,-207.90 L288.68,-207.03 L289.35,-206.15 L290.03,-205.27 L290.70,-204.39 L291.36,-203.51 L292.03,-202.63 L292.69,-201.74 L293.35,-200.85 L294.01,-199.96 L294.66,-199.06 L295.31,-198.17 L295.96,-197.27 L296.61,-196.37 L297.25,-195.47 L297.89,-194.56 L298.53,-193.66 L299.16,-192.75 L299.80,-191.84 L300.42,-190.93 L301.05,-190.01 L301.68,-189.09 L302.30,-188.18 L302.91,-187.25 L303.53,-186.33 L304.14,-185.41 L304.75,-184.48 L305.36,-183.55 L305.96,-182.62 L306.57,-181.69 L307.16,-180.75 L307.76,-179.82 L308.35,-178.88 L308.94,-177.94 L309.53,-176.99 L310.11,-176.05 L310.69,-175.10 L311.27,-174.15 L311.85,-173.20 L312.42,-172.25 L312.99,-171.30 L313.56,-170.34 L314.12,-169.38 L314.68,-168.42 L315.24,-167.46 L315.80,-166.50"/><path id="t3" d="M-347.67,-81.54 L-347.26,-83.15 L-346.84,-84.74 L-346.42,-86.34 L-345.99,-87.94 L-345.56,-89.53 L-345.11,-91.12 L-344.66,-92.71 L-344.20,-94.29 L-343.74,-95.88 L-343.27,-97.46 L-342.79,-99.04 L-342.30,-100.61 L-341.80,-102.19 L-341.30,-103.76 L-340.79,-105.33 L-340.28,-106.90 L-339.75,-108.46 L-339.22,-110.02 L-338.69,-111.58 L-338.14,-113.14 L-337.59,-114.69 L-337.03,-116.25 L-336.46,-117.79 L-335.89,-119.34 L-335.31,-120.88 L-334.72,-122.42 L-334.13,-123.96 L-333.52,-125.50 L-332.92,-127.03 L-332.30,-128.56 L-331.68,-130.08 L-331.05,-131.61 L-330.41,-133.13 L-329.77,-134.64 L-329.11,-136.16 L-328.46,-137.67 L-327.79,-139.17 L-327.12,-140.68 L-326.44,-142.18 L-325.76,-143.68 L-325.06,-145.17 L-324.36,-146.66 L-323.66,-148.15 L-322.95,-149.63 L-322.23,-151.11 L-321.50,-152.59 L-320.77,-154.06 L-320.03,-155.53 L-319.28,-157.00 L-318.53,-158.46 L-317.77,-159.92 L-317.00,-161.38 L-316.23,-162.83 L-315.45,-164.28 L-314.66,-165.73 L-313.87,-167.17 L-313.07,-168.60 L-312.26,-170.04 L-311.45,-171.47 L-310.63,-172.89"/><path id="t4" d="M-343.22,121.54 L-342.71,122.84 L-342.20,124.14 L-341.68,125.44 L-341.16,126.74 L-340.63,128.04 L-340.10,129.33 L-339.56,130.62 L-339.02,131.91 L-338.48,133.19 L-337.93,134.48 L-337.37,135.76 L-336.81,137.04 L-336.24,138.31 L-335.67,139.59 L-335.10,140.86 L-334.52,142.13 L-333.93,143.40 L-333.34,144.66 L-332.75,145.93 L-332.15,147.19 L-331.54,148.45 L-330.94,149.70 L-330.32,150.95 L-329.70,152.20 L-329.08,153.45 L-328.45,154.70 L-327.82,155.94 L-327.18,157.18 L-326.54,158.42 L-325.89,159.65 L-325.24,160.89 L-324.59,162.12 L-323.93,163.34 L-323.26,164.57 L-322.59,165.79 L-321.92,167.01 L-321.24,168.22 L-320.55,169.44 L-319.87,170.65 L-319.17,171.86 L-318.48,173.06 L-317.77,174.26 L-317.07,175.46 L-316.36,176.66 L-315.64,177.85 L-314.92,179.05 L-314.20,180.23 L-313.47,181.42 L-312.73,182.60 L-312.00,183.78 L-311.25,184.96 L-310.51,186.13 L-309.76,187.30 L-309.00,188.47 L-308.24,189.63 L-307.48,190.79 L-306.71,191.95 L-305.93,193.10 L-305.16,194.26 L-304.37,195.40"/><path id="t5" d="M-274.56,237.00 L-272.01,239.66 L-269.44,242.30 L-266.84,244.92 L-264.21,247.50 L-261.56,250.06 L-258.88,252.59 L-256.18,255.09 L-253.46,257.56 L-250.71,260.00 L-247.94,262.41 L-245.14,264.80 L-242.32,267.15 L-239.48,269.48 L-236.62,271.77 L-233.74,274.03 L-230.83,276.27 L-227.90,278.47 L-224.95,280.64 L-221.99,282.78 L-219.00,284.89 L-215.99,286.96 L-212.96,289.01 L-209.91,291.02 L-206.85,293.01 L-203.76,294.95 L-200.66,296.87 L-197.54,298.76 L-194.40,300.61 L-191.24,302.43 L-188.07,304.21 L-184.88,305.96 L-181.67,307.68 L-178.45,309.37 L-175.21,311.02 L-171.96,312.64 L-168.70,314.22 L-165.41,315.77 L-162.12,317.28 L-158.81,318.77 L-155.49,320.21 L-152.15,321.62 L-148.80,323.00 L-145.44,324.34 L-142.07,325.65 L-138.69,326.92 L-135.29,328.16 L-131.89,329.36 L-128.47,330.53 L-125.04,331.66 L-121.61,332.76 L-118.16,333.82 L-114.71,334.84 L-111.24,335.83 L-107.77,336.79 L-104.29,337.70 L-100.81,338.59 L-97.31,339.43 L-93.81,340.24 L-90.31,341.01 L-86.79,341.75 L-85.89,341.99 L-84.98,342.22 L-84.07,342.45 L-83.16,342.68 L-82.25,342.91 L-81.33,343.13 L-80.42,343.35 L-79.51,343.57 L-78.60,343.79 L-77.68,344.00 L-76.77,344.22 L-75.85,344.43 L-74.94,344.63 L-74.02,344.84 L-73.10,345.04 L-72.19,345.24 L-71.27,345.44 L-70.35,345.63 L-69.43,345.83 L-68.51,346.02 L-67.59,346.20 L-66.67,346.39 L-65.75,346.57 L-64.83,346.75 L-63.91,346.93 L-62.99,347.10 L-62.06,347.28 L-61.14,347.45 L-60.22,347.62 L-59.29,347.78 L-58.37,347.95 L-57.44,348.11 L-56.52,348.26 L-55.59,348.42 L-54.66,348.57 L-53.74,348.72 L-52.81,348.87 L-51.88,349.02 L-50.95,349.16 L-50.02,349.30 L-49.10,349.44 L-48.17,349.58 L-47.24,349.71 L-46.31,349.84 L-45.38,349.97 L-44.44,350.10 L-43.51,350.22 L-42.58,350.34 L-41.65,350.46 L-40.72,350.58 L-39.79,350.69 L-38.85,350.80 L-37.92,350.91 L-36.99,351.02 L-36.05,351.12 L-35.12,351.22 L-34.18,351.32 L-33.25,351.42 L-32.31,351.51 L-31.38,351.60 L-28.87,351.82 L-26.37,352.01 L-23.86,352.19 L-21.35,352.35 L-18.83,352.50 L-16.32,352.62 L-13.81,352.73 L-11.29,352.82 L-8.78,352.89 L-6.26,352.94 L-3.75,352.98 L-1.23,353.00 L1.28,353.00 L3.80,352.98 L6.31,352.94 L8.83,352.89 L11.34,352.82 L13.86,352.73 L16.37,352.62 L18.88,352.49 L21.40,352.35 L23.91,352.19 L26.42,352.01 L28.92,351.81 L31.43,351.60 L33.94,351.37 L36.44,351.11 L38.94,350.85 L41.44,350.56 L43.94,350.25 L46.43,349.93 L48.92,349.59 L51.41,349.24 L53.90,348.86 L56.39,348.47 L58.87,348.06 L61.35,347.63 L63.82,347.18 L66.30,346.72 L68.77,346.24 L71.23,345.74 L73.69,345.22 L76.15,344.69 L78.61,344.14 L81.06,343.57 L83.50,342.98 L85.95,342.38 L88.38,341.76 L90.82,341.12 L93.25,340.46 L95.67,339.79 L98.09,339.10 L100.50,338.39 L102.91,337.67 L105.32,336.92 L107.71,336.16 L110.11,335.39 L112.50,334.59 L114.88,333.78 L117.25,332.96"/></defs><text textLength="301.1" lengthAdjust="spacingAndGlyphs"><textPath href="#t1" textLength="301.1" lengthAdjust="spacingAndGlyphs">ARTIODACTYLA  CHIROPTERA CARNIVORAMORPHA</textPath></text><text textLength="66.5" lengthAdjust="spacingAndGlyphs"><textPath href="#t2" textLength="66.5" lengthAdjust="spacingAndGlyphs">PHOLIDOTA</textPath></text><text textLength="98.9" lengthAdjust="spacingAndGlyphs"><textPath href="#t3" textLength="98.9" lengthAdjust="spacingAndGlyphs">PERISSODACTYLA</textPath></text><text textLength="83.6" lengthAdjust="spacingAndGlyphs"><textPath href="#t4" textLength="83.6" lengthAdjust="spacingAndGlyphs">EULIPOTYPHLA</textPath></text><text textLength="425.7" lengthAdjust="spacingAndGlyphs"><textPath href="#t5" textLength="425.7" lengthAdjust="spacingAndGlyphs">PRIMATES DERMOPTERA SCANDENTIA GLIRES AFROTHERIA XENARTHRA</textPath></text></g>
</g>
</svg>
</body></html>
